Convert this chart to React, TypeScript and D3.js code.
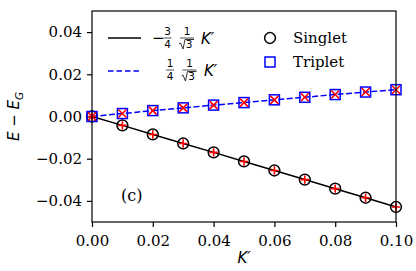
import React, { useRef, useEffect } from 'react';
import * as d3 from 'd3';

// K' values where the energies were computed
const kValues = [0, 0.01, 0.02, 0.03, 0.04, 0.05, 0.06, 0.07, 0.08, 0.09, 0.1];
// E - E_G
const singlet = [0, -0.0042, -0.0085, -0.0128, -0.0170, -0.0213, -0.0256, -0.0299, -0.0342, -0.0385, -0.0429];
const triplet = [0, 0.0014, 0.0028, 0.0041, 0.0054, 0.0066, 0.0079, 0.0091, 0.0104, 0.0116, 0.0127];
const xTicks = [0, 0.02, 0.04, 0.06, 0.08, 0.1];
const yTicks = [-0.04, -0.02, 0, 0.02, 0.04];

const W = 416;
const H = 271;
const serif = '"DejaVu Serif", serif';
const sans = '"DejaVu Sans", sans-serif';

const App = () => {
  const ref = useRef<SVGSVGElement | null>(null);

  useEffect(() => {
    if (!ref.current) return;
    const root = d3.select(ref.current);
    root.selectAll('*').remove();

    const margin = { top: 11, right: 20, bottom: 49, left: 92 };
    const width = W - margin.left - margin.right;
    const height = H - margin.top - margin.bottom;

    const x = d3.scaleLinear().domain([0, 0.1]).range([0, width]);
    const y = d3.scaleLinear().domain([-0.05, 0.05]).range([height, 0]);

    const g = root.append('g').attr('transform', `translate(${margin.left},${margin.top})`);

    const fmt = (d: number) => (d < 0 ? '\u2212' : '') + Math.abs(d).toFixed(2);

    const xAxis = g.append('g')
      .attr('transform', `translate(0,${height})`)
      .call(d3.axisBottom(x).tickValues(xTicks).tickSize(5).tickPadding(5).tickFormat(d => fmt(+d)));
    const yAxis = g.append('g')
      .call(d3.axisLeft(y).tickValues(yTicks).tickSize(5).tickPadding(5).tickFormat(d => fmt(+d)));
    [xAxis, yAxis].forEach(a => {
      a.select('.domain').remove();
      a.selectAll('line').attr('stroke', '#000').attr('stroke-width', 1.2);
      a.selectAll('text')
        .attr('font-family', serif)
        .attr('font-size', 15)
        .attr('fill', '#000');
    });
    xAxis.selectAll('text').attr('dy', '0.95em');

    const pts = (vals: number[]) => kValues.map((k, i) => [x(k), y(vals[i])] as [number, number]);
    const line = d3.line<[number, number]>();

    g.append('path').attr('d', line(pts(singlet)))
      .attr('fill', 'none').attr('stroke', '#000').attr('stroke-width', 1.5);
    g.append('path').attr('d', line(pts(triplet)))
      .attr('fill', 'none').attr('stroke', '#0000ff').attr('stroke-width', 1.5)
      .attr('stroke-dasharray', '6,2.5');

    // markers
    const plus = (cx: number, cy: number, s: number) =>
      `M${cx - s},${cy}H${cx + s}M${cx},${cy - s}V${cy + s}`;
    const cross = (cx: number, cy: number, s: number) =>
      `M${cx - s},${cy - s}L${cx + s},${cy + s}M${cx - s},${cy + s}L${cx + s},${cy - s}`;

    pts(singlet).forEach(([px, py]) => {
      g.append('circle').attr('cx', px).attr('cy', py).attr('r', 5.4)
        .attr('fill', 'none').attr('stroke', '#000').attr('stroke-width', 1.5);
      g.append('path').attr('d', plus(px, py, 4.2))
        .attr('stroke', '#ff0000').attr('stroke-width', 1.6);
    });
    pts(triplet).forEach(([px, py]) => {
      g.append('rect').attr('x', px - 5).attr('y', py - 5).attr('width', 10).attr('height', 10)
        .attr('fill', 'none').attr('stroke', '#0000ff').attr('stroke-width', 1.5);
      g.append('path').attr('d', cross(px, py, 4))
        .attr('stroke', '#ff0000').attr('stroke-width', 1.6);
    });

    // frame
    g.append('rect').attr('width', width).attr('height', height)
      .attr('fill', 'none').attr('stroke', '#000').attr('stroke-width', 1.2);

    // axis labels
    const xl = root.append('text')
      .attr('x', margin.left + width / 2).attr('y', 263)
      .attr('text-anchor', 'middle').attr('font-family', sans).attr('font-size', 15)
      .attr('font-style', 'italic');
    xl.text("K\u2032");

    const yl = root.append('text')
      .attr('transform', `translate(19,${margin.top + y(0)}) rotate(-90)`)
      .attr('text-anchor', 'middle').attr('font-family', sans).attr('font-size', 15)
      .attr('font-style', 'italic');
    yl.append('tspan').text('E \u2212 E');
    yl.append('tspan').attr('font-size', 10.5).attr('dy', 4).text('G');

    // panel tag
    root.append('text').attr('x', 121).attr('y', 201)
      .attr('font-family', serif).attr('font-size', 16).text('(c)');

    // left legend: lines with formulas
    const frac = (cx: number, cy: number, num: string, den: string, sqrt: boolean) => {
      root.append('text').attr('x', cx).attr('y', cy - 3).attr('text-anchor', 'middle')
        .attr('font-family', sans).attr('font-size', 10.5).text(num);
      root.append('line').attr('x1', cx - (sqrt ? 7 : 4)).attr('x2', cx + (sqrt ? 7 : 4))
        .attr('y1', cy).attr('y2', cy).attr('stroke', '#000').attr('stroke-width', 0.7);
      root.append('text').attr('x', cx + (sqrt ? 2 : 0)).attr('y', cy + 10).attr('text-anchor', 'middle')
        .attr('font-family', sans).attr('font-size', 10.5).text(den);
      if (sqrt) {
        root.append('path')
          .attr('d', `M${cx - 8},${cy + 6} L${cx - 6.5},${cy + 5} L${cx - 4},${cy + 11} L${cx - 2},${cy + 1.5} H${cx + 7}`)
          .attr('fill', 'none').attr('stroke', '#000').attr('stroke-width', 0.8);
      }
    };

    root.append('line').attr('x1', 108).attr('x2', 141).attr('y1', 38).attr('y2', 38)
      .attr('stroke', '#000').attr('stroke-width', 1.5);
    root.append('text').attr('x', 152).attr('y', 43)
      .attr('font-family', sans).attr('font-size', 15).text('\u2212');
    frac(167.5, 38, '3', '4', false);
    frac(187, 38, '1', '3', true);
    root.append('text').attr('x', 201).attr('y', 44)
      .attr('font-family', sans).attr('font-size', 15).attr('font-style', 'italic').text('K\u2032');

    root.append('line').attr('x1', 108).attr('x2', 141).attr('y1', 71).attr('y2', 71)
      .attr('stroke', '#0000ff').attr('stroke-width', 1.5).attr('stroke-dasharray', '5.5,3');
    frac(170, 70, '1', '4', false);
    frac(189.5, 70, '1', '3', true);
    root.append('text').attr('x', 204).attr('y', 76)
      .attr('font-family', sans).attr('font-size', 15).attr('font-style', 'italic').text('K\u2032');

    // right legend: markers
    root.append('circle').attr('cx', 270).attr('cy', 38).attr('r', 5.4)
      .attr('fill', 'none').attr('stroke', '#000').attr('stroke-width', 1.5);
    root.append('text').attr('x', 293).attr('y', 43)
      .attr('font-family', serif).attr('font-size', 15).text('Singlet');
    root.append('rect').attr('x', 265).attr('y', 57).attr('width', 10).attr('height', 10)
      .attr('fill', 'none').attr('stroke', '#0000ff').attr('stroke-width', 1.5);
    root.append('text').attr('x', 293).attr('y', 67)
      .attr('font-family', serif).attr('font-size', 15).text('Triplet');
  }, []);

  return (
    <svg ref={ref} width={W} height={H}
      style={{ position: 'absolute', left: 0, top: 0, background: '#fff' }} />
  );
};

export default App;
